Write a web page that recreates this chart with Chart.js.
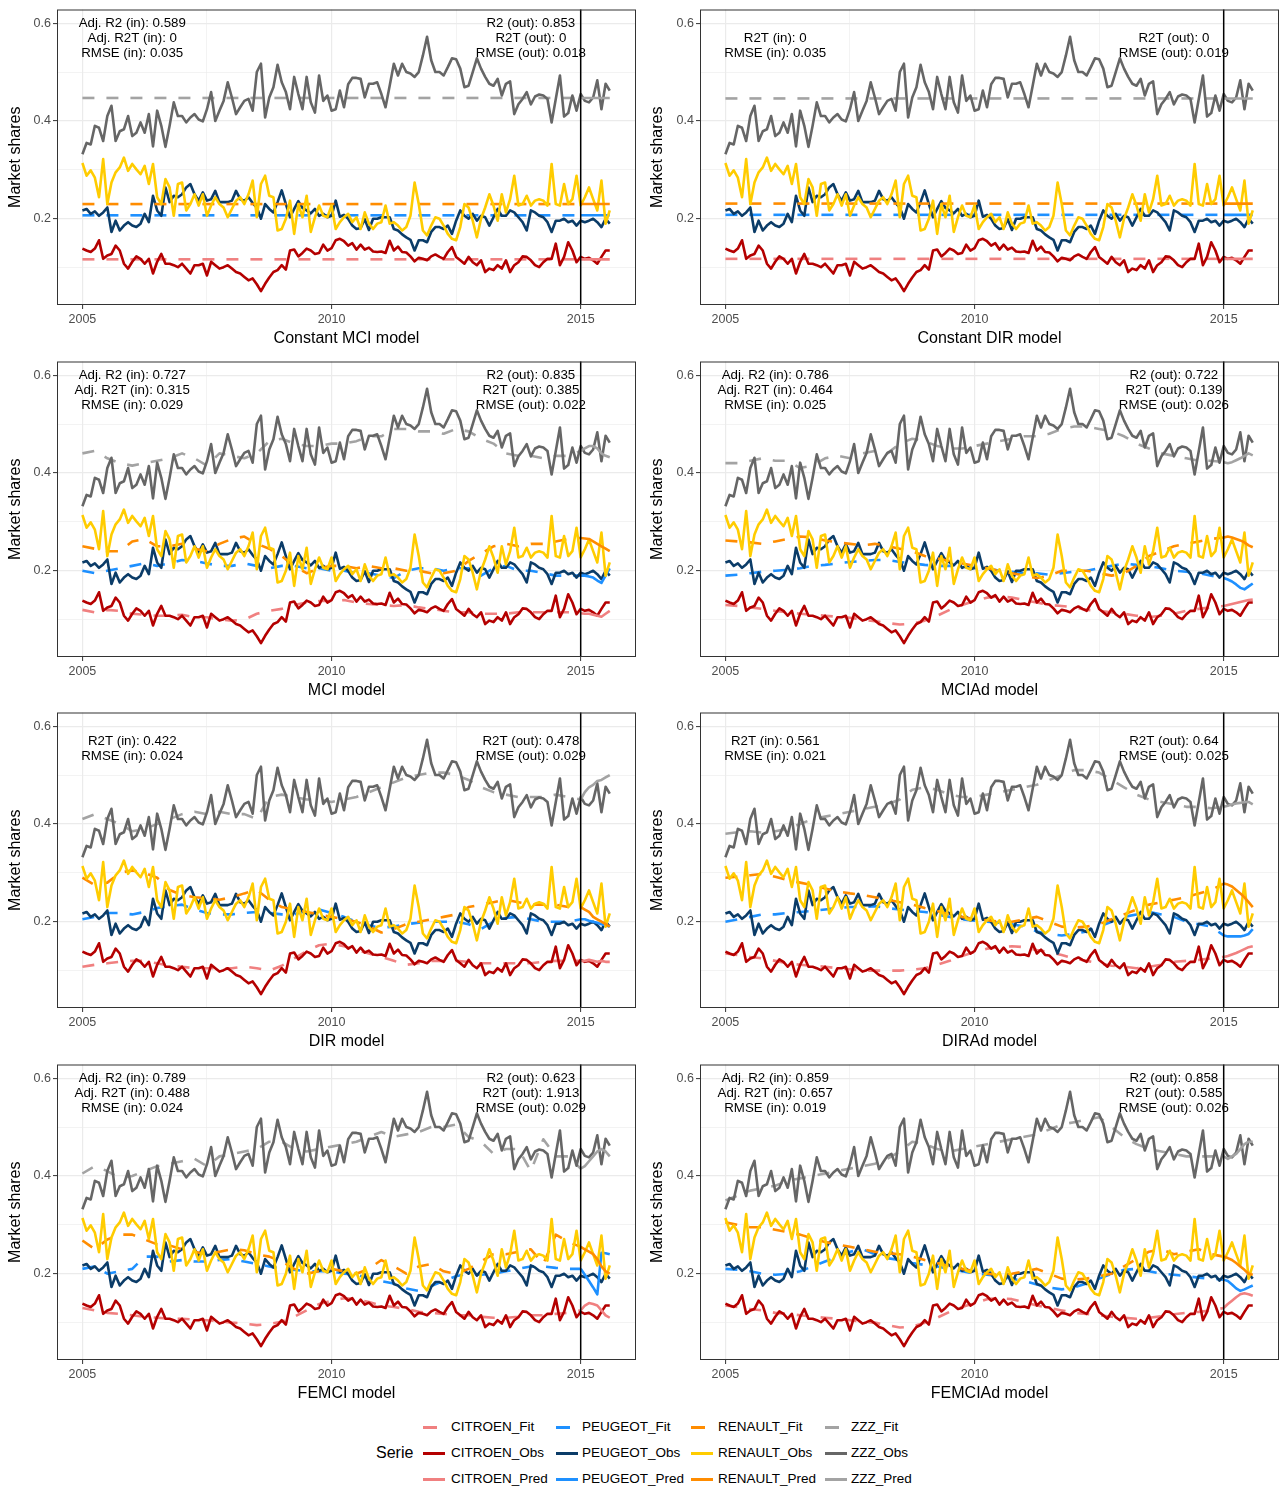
<!DOCTYPE html>
<html><head><meta charset="utf-8">
<script src="https://cdn.jsdelivr.net/npm/chart.js@4.4.1/dist/chart.umd.min.js"></script>
<style>
html,body{margin:0;padding:0;background:#fff;}
#wrap{position:relative;width:1279px;height:1490px;overflow:hidden;font-family:"Liberation Sans",Arial,sans-serif;}
#wrap canvas{position:absolute;}
.lg{position:absolute;font-size:13.5px;color:#000;line-height:16px;white-space:nowrap;}
.key{position:absolute;height:3px;}
</style></head><body><div id="wrap"></div>
<script>
// ---------------- DATA ----------------
const BRANDS = ['CITROEN','PEUGEOT','RENAULT','ZZZ'];
const START_YEAR = 2005;           // month index 0 = Jan 2005
const SPLIT_MONTH = 120;           // Jan 2015
const LAST_MONTH = 127;            // Aug 2015
const X_TICKS = [2005, 2007.5, 2010, 2012.5, 2015];
const X_LABELS = ['2005','','2010','','2015'];
const Y_TICKS = [0.1,0.2,0.3,0.4,0.5,0.6];
const Y_LABELS = ['','0.2','','0.4','','0.6'];
const TITLES = ['Constant MCI model','Constant DIR model','MCI model','MCIAd model','DIR model','DIRAd model','FEMCI model','FEMCIAd model'];

const OBS_CITROEN = [.139,.135,.132,.139,.156,.118,.125,.128,.145,.135,
 .108,.098,.112,.123,.118,.108,.118,.088,.112,.128,
 .108,.108,.105,.101,.108,.098,.088,.105,.105,.108,
 .084,.112,.105,.098,.101,.105,.098,.091,.088,.081,
 .074,.078,.066,.052,.067,.08,.091,.095,.105,.096,
 .135,.137,.123,.13,.139,.135,.128,.13,.147,.135,
 .14,.156,.159,.154,.145,.15,.137,.147,.137,.141,
 .133,.132,.133,.13,.155,.135,.143,.132,.131,.123,
 .113,.12,.118,.115,.123,.127,.122,.118,.132,.142,
 .122,.115,.108,.122,.111,.105,.115,.091,.098,.095,
 .105,.098,.115,.091,.105,.111,.123,.122,.115,.105,
 .101,.111,.118,.118,.149,.105,.122,.152,.135,.111,
 .122,.118,.12,.115,.108,.122,.135,.135];
const OBS_PEUGEOT = [.217,.22,.21,.215,.206,.213,.223,.173,.196,.176,
 .186,.193,.186,.183,.19,.21,.193,.247,.217,.206,
 .264,.234,.247,.244,.25,.264,.271,.25,.237,.254,
 .237,.24,.257,.234,.234,.234,.237,.257,.24,.237,
 .244,.232,.223,.20,.23,.22,.213,.234,.258,.23,
 .203,.22,.236,.222,.217,.211,.22,.206,.21,.203,
 .206,.237,.204,.208,.20,.186,.179,.181,.199,.177,
 .20,.20,.203,.203,.203,.179,.176,.168,.162,.157,
 .135,.156,.156,.152,.173,.183,.183,.179,.186,.169,
 .196,.217,.206,.20,.21,.196,.206,.203,.186,.203,
 .22,.206,.206,.217,.213,.203,.193,.176,.217,.213,
 .206,.203,.193,.173,.196,.196,.20,.193,.196,.186,
 .196,.193,.196,.20,.193,.183,.20,.19];
const OBS_RENAULT = [.314,.288,.299,.284,.244,.322,.23,.274,.295,.305,
 .325,.298,.312,.301,.291,.308,.271,.312,.244,.23,
 .281,.264,.206,.271,.274,.217,.23,.25,.227,.25,
 .206,.227,.244,.23,.223,.203,.22,.237,.244,.23,
 .25,.278,.203,.271,.288,.247,.244,.176,.179,.20,
 .237,.169,.23,.203,.247,.173,.203,.227,.206,.203,
 .227,.179,.193,.203,.21,.193,.203,.179,.213,.19,
 .179,.19,.193,.227,.19,.193,.186,.176,.183,.206,
 .274,.23,.176,.166,.186,.203,.20,.186,.169,.159,
 .156,.183,.23,.223,.196,.162,.20,.223,.25,.227,
 .196,.25,.213,.24,.288,.227,.23,.247,.227,.237,
 .24,.237,.227,.312,.23,.227,.271,.23,.24,.288,
 .227,.244,.264,.24,.217,.278,.19,.217];
const OBS_ZZZ = [.332,.355,.352,.39,.386,.359,.41,.431,.359,.379,
 .383,.41,.369,.376,.397,.376,.414,.348,.421,.39,
 .347,.39,.438,.41,.41,.397,.407,.414,.403,.399,
 .424,.459,.40,.421,.441,.479,.448,.414,.428,.441,
 .445,.421,.50,.517,.407,.448,.469,.515,.479,.459,
 .424,.49,.455,.424,.49,.438,.417,.493,.441,.452,
 .421,.424,.462,.428,.475,.488,.488,.486,.448,.476,
 .476,.479,.455,.428,.472,.517,.493,.517,.50,.497,
 .49,.50,.534,.572,.524,.50,.50,.493,.51,.528,
 .526,.507,.469,.472,.50,.528,.507,.49,.476,.472,
 .486,.452,.476,.481,.414,.434,.445,.459,.434,.45,
 .454,.452,.445,.397,.445,.493,.409,.416,.452,.421,
 .455,.441,.438,.448,.483,.424,.476,.462];

// fitted values (every 3 months, months 0..120) and out-of-sample predictions (months 120..127)
const FIT_MONTHS = [0,3,6,9,12,15,18,21,24,27,30,33,36,39,42,45,48,51,54,57,60,63,66,69,72,75,78,81,84,87,90,93,96,99,102,105,108,111,114,117,120];
const PRED_MONTHS = [120,121,122,123,124,125,126,127];

// constant models: CITROEN, PEUGEOT, RENAULT, ZZZ
const CONST_MCI = [0.117, 0.207, 0.23, 0.447];
const CONST_DIR = [0.118, 0.208, 0.231, 0.446];

const FIT_MCI_CITROEN = [.12,.115,.12,.118,.112,.11,.108,.108,.11,.105,.105,.1,.098,.1,.112,.118,.122,.13,.135,.138,.138,.14,.135,.132,.13,.128,.13,.125,.122,.118,.115,.115,.112,.112,.112,.115,.115,.115,.115,.115,.113];
const FIT_MCI_PEUGEOT = [.2,.195,.2,.205,.21,.215,.21,.215,.222,.22,.215,.21,.21,.215,.21,.205,.21,.21,.205,.205,.2,.2,.195,.195,.19,.185,.2,.205,.205,.2,.205,.205,.19,.205,.21,.2,.2,.195,.19,.19,.19];
const FIT_MCI_RENAULT = [.25,.245,.24,.24,.26,.265,.25,.25,.255,.245,.24,.255,.265,.27,.255,.245,.23,.21,.195,.205,.21,.21,.205,.21,.205,.205,.2,.2,.195,.195,.2,.22,.235,.25,.255,.25,.255,.255,.26,.265,.267];
const FIT_MCI_ZZZ = [.44,.445,.43,.42,.415,.42,.425,.43,.44,.43,.415,.44,.435,.43,.44,.465,.47,.46,.455,.455,.46,.46,.465,.475,.475,.49,.49,.485,.485,.48,.49,.485,.47,.46,.44,.435,.435,.43,.435,.435,.445];
const PRED_MCI_CITROEN = [.113,.112,.112,.11,.108,.106,.112,.118];
const PRED_MCI_PEUGEOT = [.19,.19,.188,.186,.18,.175,.19,.205];
const PRED_MCI_RENAULT = [.267,.266,.265,.26,.255,.25,.245,.24];
const PRED_MCI_ZZZ = [.445,.45,.455,.455,.45,.44,.435,.432];

const FIT_MCIAD_CITROEN = [.13,.128,.125,.122,.118,.115,.112,.11,.108,.106,.104,.1,.097,.093,.09,.092,.098,.108,.12,.13,.138,.145,.148,.145,.14,.135,.13,.128,.125,.12,.118,.115,.112,.108,.105,.108,.112,.118,.122,.125,.128];
const FIT_MCIAD_PEUGEOT = [.19,.192,.195,.198,.2,.202,.205,.21,.212,.215,.218,.22,.222,.222,.218,.215,.212,.21,.21,.208,.205,.205,.2,.198,.195,.195,.192,.195,.198,.2,.205,.21,.215,.212,.21,.205,.2,.198,.195,.19,.185];
const FIT_MCIAD_RENAULT = [.262,.26,.258,.255,.26,.265,.27,.268,.262,.258,.255,.252,.255,.25,.245,.24,.23,.225,.22,.215,.21,.205,.2,.195,.19,.185,.19,.2,.2,.2,.195,.19,.195,.21,.23,.24,.25,.255,.26,.265,.268];
const FIT_MCIAD_ZZZ = [.42,.42,.425,.43,.425,.425,.41,.415,.43,.435,.43,.44,.445,.44,.46,.47,.465,.455,.45,.45,.455,.46,.465,.47,.475,.475,.48,.49,.495,.495,.49,.485,.475,.46,.45,.44,.435,.43,.425,.425,.422];
const PRED_MCIAD_CITROEN = [.128,.13,.132,.134,.136,.138,.14,.141];
const PRED_MCIAD_PEUGEOT = [.185,.182,.178,.172,.165,.162,.168,.174];
const PRED_MCIAD_RENAULT = [.268,.27,.268,.265,.262,.258,.252,.248];
const PRED_MCIAD_ZZZ = [.422,.42,.422,.426,.43,.435,.44,.436];

const FIT_DIR_CITROEN = [.108,.112,.115,.118,.12,.12,.115,.11,.108,.105,.105,.105,.105,.108,.105,.1,.11,.125,.14,.152,.155,.15,.142,.135,.128,.12,.112,.115,.12,.12,.12,.118,.115,.115,.115,.115,.115,.118,.12,.12,.12];
const FIT_DIR_PEUGEOT = [.205,.21,.218,.218,.215,.22,.228,.232,.235,.225,.218,.215,.215,.218,.22,.218,.215,.215,.222,.225,.218,.21,.2,.192,.188,.19,.195,.198,.2,.2,.2,.195,.185,.2,.208,.21,.205,.2,.2,.2,.205];
const FIT_DIR_RENAULT = [.29,.275,.28,.3,.305,.3,.29,.265,.255,.25,.248,.245,.25,.258,.265,.245,.23,.225,.22,.215,.21,.205,.2,.19,.178,.185,.195,.2,.205,.21,.215,.23,.235,.24,.245,.24,.235,.235,.235,.23,.23];
const FIT_DIR_ZZZ = [.41,.42,.41,.4,.385,.39,.4,.41,.42,.425,.42,.425,.42,.42,.41,.455,.46,.455,.45,.45,.445,.45,.455,.465,.475,.485,.495,.5,.505,.505,.5,.49,.475,.465,.46,.455,.455,.455,.46,.455,.45];
const PRED_DIR_CITROEN = [.12,.12,.122,.12,.118,.12,.118,.118];
const PRED_DIR_PEUGEOT = [.205,.205,.202,.2,.198,.195,.193,.19];
const PRED_DIR_RENAULT = [.23,.225,.22,.21,.205,.2,.195,.19];
const PRED_DIR_ZZZ = [.45,.465,.475,.48,.488,.49,.495,.5];

const FIT_DIRAD_CITROEN = [.135,.132,.128,.125,.12,.115,.112,.11,.108,.105,.103,.1,.1,.1,.1,.102,.105,.112,.12,.13,.138,.145,.148,.15,.148,.142,.138,.132,.125,.12,.115,.11,.108,.105,.108,.112,.118,.12,.122,.125,.128];
const FIT_DIRAD_PEUGEOT = [.2,.205,.21,.215,.215,.218,.22,.222,.225,.228,.23,.23,.232,.228,.225,.222,.22,.215,.21,.205,.202,.2,.198,.195,.19,.18,.175,.172,.175,.18,.19,.2,.21,.215,.22,.215,.21,.2,.195,.19,.172];
const FIT_DIRAD_RENAULT = [.29,.292,.295,.298,.292,.285,.28,.275,.268,.262,.258,.255,.25,.245,.24,.235,.228,.222,.215,.21,.205,.203,.2,.2,.205,.21,.2,.19,.188,.19,.195,.205,.215,.225,.235,.24,.245,.25,.258,.265,.278];
const FIT_DIRAD_ZZZ = [.38,.383,.385,.382,.385,.39,.4,.41,.415,.42,.425,.43,.435,.44,.45,.47,.475,.47,.46,.455,.455,.46,.465,.47,.475,.48,.49,.5,.51,.51,.505,.49,.475,.46,.45,.445,.44,.435,.435,.432,.435];
const PRED_DIRAD_CITROEN = [.128,.13,.133,.136,.14,.144,.148,.15];
const PRED_DIRAD_PEUGEOT = [.172,.17,.17,.17,.17,.172,.175,.185];
const PRED_DIRAD_RENAULT = [.278,.276,.272,.265,.258,.25,.24,.23];
const PRED_DIRAD_ZZZ = [.435,.437,.44,.442,.443,.445,.445,.44];

const FIT_FEMCI_CITROEN = [.13,.125,.12,.118,.115,.112,.11,.108,.108,.106,.105,.103,.1,.098,.095,.097,.102,.112,.125,.138,.145,.15,.148,.142,.135,.132,.128,.122,.12,.118,.115,.115,.112,.11,.11,.112,.115,.115,.118,.12,.125];
const FIT_FEMCI_PEUGEOT = [.21,.215,.2,.205,.21,.235,.235,.225,.228,.225,.225,.228,.23,.225,.22,.215,.21,.208,.205,.205,.205,.2,.198,.19,.185,.18,.17,.165,.175,.185,.195,.2,.198,.2,.205,.21,.215,.215,.212,.21,.21];
const FIT_FEMCI_RENAULT = [.268,.25,.27,.28,.28,.27,.26,.258,.25,.245,.24,.245,.25,.248,.24,.235,.225,.21,.2,.205,.21,.205,.2,.21,.228,.215,.2,.215,.22,.205,.2,.21,.225,.24,.24,.245,.25,.22,.28,.265,.255];
const FIT_FEMCI_ZZZ = [.405,.42,.41,.395,.4,.41,.42,.425,.43,.435,.42,.44,.445,.45,.455,.47,.47,.455,.45,.455,.46,.465,.47,.48,.49,.48,.485,.49,.5,.5,.505,.48,.47,.445,.455,.455,.41,.475,.44,.44,.415];
const PRED_FEMCI_CITROEN = [.125,.135,.14,.138,.135,.125,.115,.11];
const PRED_FEMCI_PEUGEOT = [.21,.198,.185,.172,.158,.243,.242,.24];
const PRED_FEMCI_RENAULT = [.255,.25,.245,.24,.23,.215,.205,.2];
const PRED_FEMCI_ZZZ = [.415,.42,.43,.44,.45,.455,.45,.44];

const FIT_FEMCIAD_CITROEN = [.135,.132,.128,.125,.12,.118,.115,.112,.11,.108,.105,.102,.1,.095,.09,.092,.1,.11,.122,.132,.14,.148,.15,.148,.142,.135,.13,.125,.12,.118,.115,.112,.11,.108,.11,.113,.117,.12,.122,.125,.13];
const FIT_FEMCIAD_PEUGEOT = [.21,.208,.205,.2,.198,.2,.205,.215,.225,.235,.245,.25,.24,.232,.228,.222,.218,.215,.21,.205,.2,.198,.195,.19,.185,.178,.172,.168,.172,.18,.19,.2,.208,.21,.205,.2,.198,.195,.192,.19,.188];
const FIT_FEMCIAD_RENAULT = [.305,.3,.295,.295,.29,.285,.28,.272,.265,.26,.255,.25,.245,.242,.24,.235,.228,.222,.215,.21,.205,.2,.198,.2,.205,.21,.2,.19,.188,.19,.195,.2,.215,.23,.245,.25,.24,.245,.25,.24,.235];
const FIT_FEMCIAD_ZZZ = [.35,.36,.37,.375,.38,.39,.395,.4,.405,.41,.415,.42,.425,.435,.45,.47,.465,.455,.45,.455,.46,.465,.47,.475,.48,.485,.495,.505,.51,.515,.52,.5,.48,.465,.455,.45,.445,.44,.44,.44,.44];
const PRED_FEMCIAD_CITROEN = [.13,.138,.145,.152,.158,.16,.158,.155];
const PRED_FEMCIAD_PEUGEOT = [.188,.185,.178,.17,.165,.168,.172,.176];
const PRED_FEMCIAD_RENAULT = [.235,.232,.228,.222,.215,.208,.2,.198];
const PRED_FEMCIAD_ZZZ = [.44,.435,.44,.445,.455,.465,.47,.47];

const STATS_IN = [
 ['Adj. R2 (in): 0.589','Adj. R2T (in): 0','RMSE (in): 0.035'],
 ['R2T (in): 0','RMSE (in): 0.035'],
 ['Adj. R2 (in): 0.727','Adj. R2T (in): 0.315','RMSE (in): 0.029'],
 ['Adj. R2 (in): 0.786','Adj. R2T (in): 0.464','RMSE (in): 0.025'],
 ['R2T (in): 0.422','RMSE (in): 0.024'],
 ['R2T (in): 0.561','RMSE (in): 0.021'],
 ['Adj. R2 (in): 0.789','Adj. R2T (in): 0.488','RMSE (in): 0.024'],
 ['Adj. R2 (in): 0.859','Adj. R2T (in): 0.657','RMSE (in): 0.019']];
const STATS_OUT = [
 ['R2 (out): 0.853','R2T (out): 0','RMSE (out): 0.018'],
 ['R2T (out): 0','RMSE (out): 0.019'],
 ['R2 (out): 0.835','R2T (out): 0.385','RMSE (out): 0.022'],
 ['R2 (out): 0.722','R2T (out): 0.139','RMSE (out): 0.026'],
 ['R2T (out): 0.478','RMSE (out): 0.029'],
 ['R2T (out): 0.64','RMSE (out): 0.025'],
 ['R2 (out): 0.623','R2T (out): 1.913','RMSE (out): 0.029'],
 ['R2 (out): 0.858','R2T (out): 0.585','RMSE (out): 0.026']];

// ---------------- STYLE ----------------
const OBS_COLORS = ['#B40000','#0B3C68','#FFCC00','#666666'];
const FIT_COLORS = ['#F08080','#1E90FF','#FF8C00','#A3A3A3'];
const FONT = '"Liberation Sans", Arial, sans-serif';
const XMIN = 2004.49, XMAX = 2016.11, YMIN = 0.0236, YMAX = 0.6279;
const STAT_X_IN = 2006, STAT_X_OUT = 2014;
const COLS = [{left:0, w:640, yw:57, pr:4},{left:642, w:637, yw:58, pr:0}];
const ROW_TOPS = [0, 352, 703, 1055];
const CANVAS_H = 352;

const OBS = [OBS_CITROEN, OBS_PEUGEOT, OBS_RENAULT, OBS_ZZZ];
const PANELS = [
 {constant: CONST_MCI},
 {constant: CONST_DIR},
 {fit:[FIT_MCI_CITROEN,FIT_MCI_PEUGEOT,FIT_MCI_RENAULT,FIT_MCI_ZZZ], pred:[PRED_MCI_CITROEN,PRED_MCI_PEUGEOT,PRED_MCI_RENAULT,PRED_MCI_ZZZ]},
 {fit:[FIT_MCIAD_CITROEN,FIT_MCIAD_PEUGEOT,FIT_MCIAD_RENAULT,FIT_MCIAD_ZZZ], pred:[PRED_MCIAD_CITROEN,PRED_MCIAD_PEUGEOT,PRED_MCIAD_RENAULT,PRED_MCIAD_ZZZ]},
 {fit:[FIT_DIR_CITROEN,FIT_DIR_PEUGEOT,FIT_DIR_RENAULT,FIT_DIR_ZZZ], pred:[PRED_DIR_CITROEN,PRED_DIR_PEUGEOT,PRED_DIR_RENAULT,PRED_DIR_ZZZ]},
 {fit:[FIT_DIRAD_CITROEN,FIT_DIRAD_PEUGEOT,FIT_DIRAD_RENAULT,FIT_DIRAD_ZZZ], pred:[PRED_DIRAD_CITROEN,PRED_DIRAD_PEUGEOT,PRED_DIRAD_RENAULT,PRED_DIRAD_ZZZ]},
 {fit:[FIT_FEMCI_CITROEN,FIT_FEMCI_PEUGEOT,FIT_FEMCI_RENAULT,FIT_FEMCI_ZZZ], pred:[PRED_FEMCI_CITROEN,PRED_FEMCI_PEUGEOT,PRED_FEMCI_RENAULT,PRED_FEMCI_ZZZ]},
 {fit:[FIT_FEMCIAD_CITROEN,FIT_FEMCIAD_PEUGEOT,FIT_FEMCIAD_RENAULT,FIT_FEMCIAD_ZZZ], pred:[PRED_FEMCIAD_CITROEN,PRED_FEMCIAD_PEUGEOT,PRED_FEMCIAD_RENAULT,PRED_FEMCIAD_ZZZ]}
];

const mx = m => START_YEAR + m / 12;

function buildDatasets(p){
  const ds = [];
  BRANDS.forEach((b,k)=>{
    let fitData, predData;
    if (p.constant){
      const c = p.constant[k];
      fitData = [{x:mx(0),y:c},{x:mx(SPLIT_MONTH),y:c}];
      predData = [{x:mx(SPLIT_MONTH),y:c},{x:mx(LAST_MONTH),y:c}];
    } else {
      fitData = FIT_MONTHS.map((m,j)=>({x:mx(m),y:p.fit[k][j]}));
      predData = PRED_MONTHS.map((m,j)=>({x:mx(m),y:p.pred[k][j]}));
    }
    const base = {pointRadius:0, borderWidth:2.6, tension:0, fill:false, borderCapStyle:'butt', borderJoinStyle:'round'};
    ds.push(Object.assign({label:b+'_Fit', data:fitData, borderColor:FIT_COLORS[k], borderDash:[12,12]}, base));
    ds.push(Object.assign({label:b+'_Obs', data:OBS[k].map((v,i)=>({x:mx(i),y:v})), borderColor:OBS_COLORS[k]}, base));
    ds.push(Object.assign({label:b+'_Pred', data:predData, borderColor:FIT_COLORS[k]}, base));
  });
  const n = ds.length;
  ds.forEach((d,s)=>{ d.order = n - s; });
  return ds;
}

const decor = {
  id:'decor',
  afterDatasetsDraw(chart, args, o){
    const {ctx, chartArea:a, scales:{x}} = chart;
    ctx.save();
    ctx.fillStyle = '#000';
    ctx.font = '13.3px ' + FONT;
    ctx.textAlign = 'center'; ctx.textBaseline = 'middle';
    const offs3 = [14, 28.8, 43.6];
    const drawBlock = (lines, xv) => {
      const offs = offs3.slice(3 - lines.length);
      lines.forEach((t,i)=> ctx.fillText(t, x.getPixelForValue(xv), a.top + offs[i]));
    };
    drawBlock(o.statsIn, STAT_X_IN);
    drawBlock(o.statsOut, STAT_X_OUT);
    // split line
    const xs = x.getPixelForValue(mx(SPLIT_MONTH));
    ctx.strokeStyle = '#000'; ctx.lineWidth = 1.5;
    ctx.beginPath(); ctx.moveTo(xs, a.top); ctx.lineTo(xs, a.bottom); ctx.stroke();
    // border
    ctx.strokeStyle = '#333333'; ctx.lineWidth = 1;
    ctx.strokeRect(a.left + 0.5, a.top + 0.5, a.right - a.left - 1, a.bottom - a.top - 1);
    // axis titles
    ctx.font = '16px ' + FONT;
    ctx.fillText(o.title, (a.left + a.right)/2, a.bottom + 34);
    ctx.translate(16, (a.top + a.bottom)/2);
    ctx.rotate(-Math.PI/2);
    ctx.fillText('Market shares', 0, 0);
    ctx.restore();
  }
};

const wrap = document.getElementById('wrap');
PANELS.forEach((p, idx)=>{
  const col = COLS[idx % 2];
  const top = ROW_TOPS[Math.floor(idx/2)];
  const cv = document.createElement('canvas');
  cv.width = col.w; cv.height = CANVAS_H;
  cv.style.left = col.left + 'px'; cv.style.top = top + 'px';
  cv.style.width = col.w + 'px'; cv.style.height = CANVAS_H + 'px';
  wrap.appendChild(cv);
  new Chart(cv.getContext('2d'), {
    type:'line',
    data:{datasets: buildDatasets(p)},
    plugins:[decor],
    options:{
      responsive:false, animation:false, devicePixelRatio:1,
      layout:{padding:{top:8, right:col.pr, left:0, bottom:0}},
      plugins:{legend:{display:false}, tooltip:{enabled:false},
        decor:{title:TITLES[idx], statsIn:STATS_IN[idx], statsOut:STATS_OUT[idx]}},
      scales:{
        x:{type:'linear', min:XMIN, max:XMAX,
          afterBuildTicks: s => { s.ticks = X_TICKS.map(v=>({value:v})); },
          afterFit: s => { s.height = 47; },
          ticks:{autoSkip:false, maxRotation:0, padding:3, color:'#4D4D4D', font:{family:FONT, size:12.5},
            callback:(v,i)=> X_LABELS[X_TICKS.indexOf(v)] ?? ''},
          grid:{color:'#EBEBEB', lineWidth: c => (c.tick && X_LABELS[X_TICKS.indexOf(c.tick.value)]) ? 1.2 : 0.6,
            tickLength:4, tickWidth:1,
            tickColor: c => (c.tick && X_LABELS[X_TICKS.indexOf(c.tick.value)]) ? '#333333' : 'rgba(0,0,0,0)'},
          border:{display:false}},
        y:{type:'linear', min:YMIN, max:YMAX,
          afterBuildTicks: s => { s.ticks = Y_TICKS.map(v=>({value:v})); },
          afterFit: s => { s.width = col.yw; },
          ticks:{autoSkip:false, padding:2, color:'#4D4D4D', font:{family:FONT, size:12.5},
            callback:(v)=> Y_LABELS[Y_TICKS.indexOf(v)] ?? ''},
          grid:{color:'#EBEBEB', lineWidth: c => (c.tick && Y_LABELS[Y_TICKS.indexOf(c.tick.value)]) ? 1.2 : 0.6,
            tickLength:4, tickWidth:1,
            tickColor: c => (c.tick && Y_LABELS[Y_TICKS.indexOf(c.tick.value)]) ? '#333333' : 'rgba(0,0,0,0)'},
          border:{display:false}}
      }
    }
  });
});

// ---------------- LEGEND ----------------
const LEG_ROWS = ['Fit','Obs','Pred'];
const LEG_ROW_Y = [1427, 1453, 1479];
const LEG_KEY_X = [423, 556, 691, 825];
const LEG_TEXT_X = [451, 582, 718, 851];
const title = document.createElement('div');
title.className = 'lg'; title.textContent = 'Serie';
title.style.fontSize = '16px'; title.style.lineHeight = '18px';
title.style.left = '376px'; title.style.top = (1453 - 9) + 'px';
wrap.appendChild(title);
BRANDS.forEach((b,k)=>{
  LEG_ROWS.forEach((r,j)=>{
    const key = document.createElement('div');
    key.className = 'key';
    key.style.background = r === 'Obs' ? OBS_COLORS[k] : FIT_COLORS[k];
    key.style.width = (r === 'Fit' ? 14 : 22) + 'px';
    key.style.left = LEG_KEY_X[k] + 'px';
    key.style.top = (LEG_ROW_Y[j] - 1.5) + 'px';
    wrap.appendChild(key);
    const t = document.createElement('div');
    t.className = 'lg'; t.textContent = b + '_' + r;
    t.style.left = LEG_TEXT_X[k] + 'px'; t.style.top = (LEG_ROW_Y[j] - 8) + 'px';
    wrap.appendChild(t);
  });
});
</script></body></html>
